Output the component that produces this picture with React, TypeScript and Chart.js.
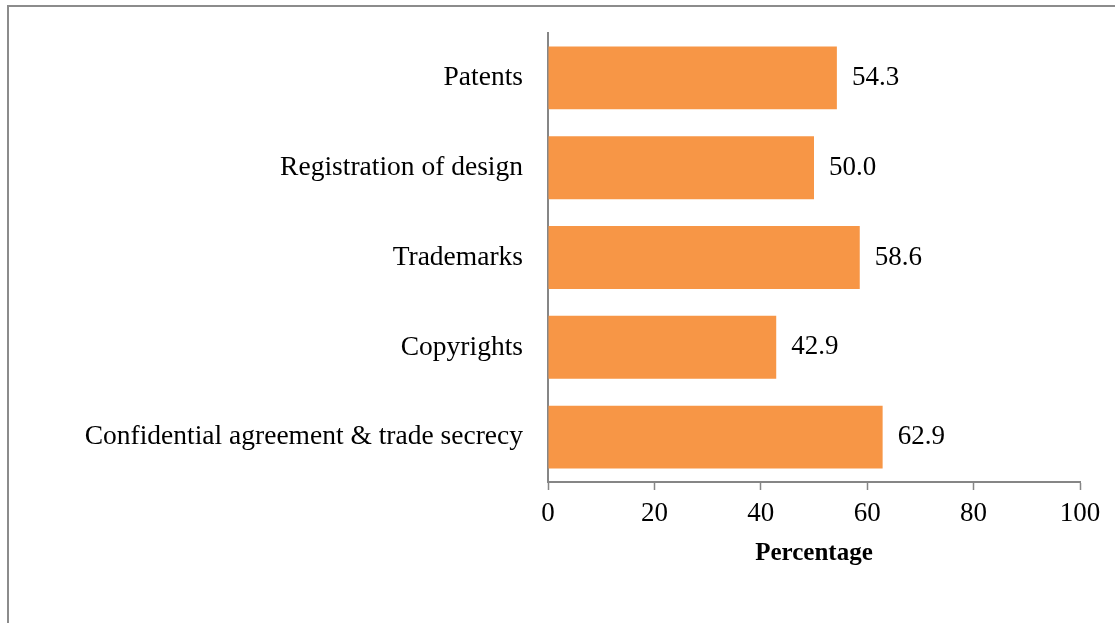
import React, { useEffect, useRef } from "react";
import { Chart, registerables } from "chart.js";

Chart.register(...registerables);

const categories = [
  "Patents",
  "Registration of design",
  "Trademarks",
  "Copyrights",
  "Confidential agreement & trade secrecy",
];
const percentages = [54.3, 50.0, 58.6, 42.9, 62.9];
const xTicks = [0, 20, 40, 60, 80, 100];
const xTitle = "Percentage";

const FONT = "'Liberation Serif', 'Times New Roman', serif";
const AXIS = "#868686";

const valueLabels = {
  id: "valueLabels",
  afterDatasetsDraw(chart: any) {
    const ctx = chart.ctx;
    const meta = chart.getDatasetMeta(0);
    ctx.save();
    ctx.font = `27px ${FONT}`;
    ctx.fillStyle = "#000";
    ctx.textAlign = "left";
    ctx.textBaseline = "middle";
    meta.data.forEach((bar: any, i: number) => {
      const v = chart.data.datasets[0].data[i] as number;
      ctx.fillText(v.toFixed(1), bar.x + 15, bar.y);
    });
    ctx.restore();
  },
};

export default function App() {
  const ref = useRef<HTMLCanvasElement>(null);
  useEffect(() => {
    if (!ref.current) return;
    const chart = new Chart(ref.current, {
      type: "bar",
      data: {
        labels: categories,
        datasets: [
          {
            data: percentages,
            backgroundColor: "#F79646",
            borderWidth: 0,
            barPercentage: 0.7,
            categoryPercentage: 1,
          },
        ],
      },
      options: {
        indexAxis: "y",
        responsive: false,
        animation: false,
        devicePixelRatio: 1,
        layout: { padding: { left: 0, top: 33, right: 35, bottom: 54 } },
        plugins: {
          legend: { display: false },
          tooltip: { enabled: false },
        },
        scales: {
          x: {
            min: 0,
            max: 100,
            afterBuildTicks: (s: any) => {
              s.ticks = xTicks.map((v) => ({ value: v }));
            },
            afterFit: (s: any) => {
              s.height = 87;
              s.paddingLeft = 0;
              s.paddingRight = 0;
            },
            grid: {
              drawOnChartArea: false,
              drawTicks: true,
              tickLength: 8,
              color: AXIS,
              tickWidth: 1.5,
            },
            border: { display: true, color: AXIS, width: 2 },
            ticks: {
              color: "#000",
              font: { family: FONT, size: 27 },
              padding: 8,
              maxRotation: 0,
            },
            title: {
              display: true,
              text: xTitle,
              color: "#000",
              font: { family: FONT, size: 25, weight: "bold" },
              padding: { top: 0, bottom: 0 },
            },
          },
          y: {
            afterFit: (s: any) => {
              s.width = 548;
              s.paddingTop = 0;
              s.paddingBottom = 0;
            },
            grid: { display: false, drawTicks: false },
            border: { display: true, color: AXIS, width: 2 },
            ticks: {
              color: "#000",
              font: { family: FONT, size: 27.5 },
              padding: 25,
            },
          },
        },
      },
      plugins: [valueLabels],
    });
    return () => chart.destroy();
  }, []);

  return (
    <div
      style={{
        position: "fixed",
        left: 0,
        top: 0,
        width: 1115,
        height: 623,
        overflow: "hidden",
        background: "#fff",
      }}
    >
      <div
        style={{
          position: "absolute",
          left: 7,
          top: 5,
          width: 1300,
          height: 800,
          border: "2px solid #8c8c8c",
        }}
      />
      <canvas
        ref={ref}
        width={1115}
        height={623}
        style={{ position: "absolute", left: 0, top: 0, width: 1115, height: 623 }}
      />
    </div>
  );
}
